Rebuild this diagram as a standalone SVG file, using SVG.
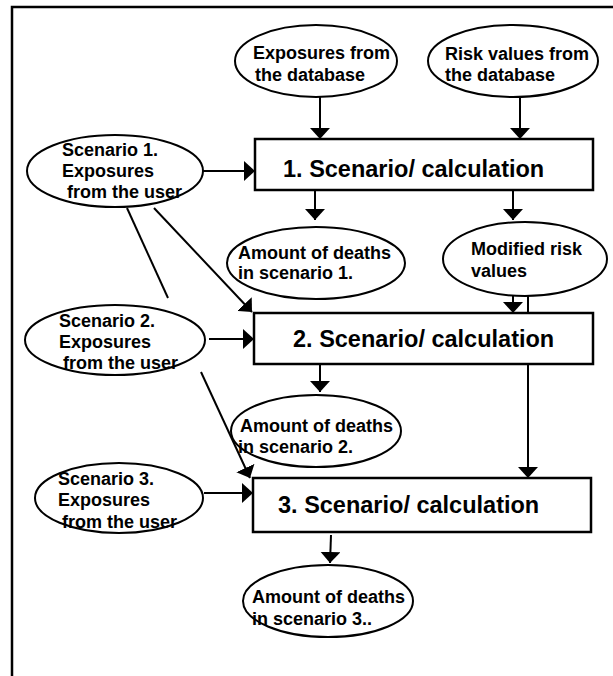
<svg xmlns="http://www.w3.org/2000/svg" width="613" height="676" viewBox="0 0 613 676">
<style>
.e{fill:#fff;stroke:#000;stroke-width:2}
.b{fill:#fff;stroke:#000;stroke-width:2.5}
.t{font-family:"Liberation Sans",Arial,sans-serif;font-weight:bold;font-size:18px;fill:#000}
.bt{font-family:"Liberation Sans",Arial,sans-serif;font-weight:bold;font-size:23.5px;fill:#000}
.c{fill:none;stroke:#000;stroke-width:2}
.a{marker-end:url(#ah)}
</style>
<defs>
<marker id="ah" viewBox="0 0 11 20" refX="11" refY="10" markerWidth="11" markerHeight="20" markerUnits="userSpaceOnUse" orient="auto">
<path d="M0,0 L11,10 L0,20 Z" fill="#000"/>
</marker>
</defs>
<rect width="613" height="676" fill="#fff"/>
<path d="M12,676 V7 H613" fill="none" stroke="#000" stroke-width="2.5"/>

<g id="connectors">
<path class="c a" d="M320,97 V139"/>
<path class="c a" d="M520,97 V139"/>
<path class="c a" d="M203,171 H255"/>
<path class="c a" d="M315,190 V220"/>
<path class="c a" d="M513,190 V220"/>
<path class="c a" d="M513,285 V313"/>
<path class="c a" d="M528,285 V478"/>
<path class="c a" d="M154,208 L252,312"/>
<path class="c" d="M127,208 L168,298"/>
<path class="c a" d="M209,339 H254"/>
<path class="c a" d="M320,364 V392"/>
<path class="c a" d="M201,372 L250,478"/>
<path class="c a" d="M204,493 H253"/>
<path class="c a" d="M331,535 L330,563"/>
</g>

<g id="exp-db">
<ellipse class="e" cx="316" cy="61" rx="81" ry="36"/>
<text class="t" x="253" y="59">Exposures from</text>
<text class="t" x="255" y="81">the database</text>
</g>
<g id="risk-db">
<ellipse class="e" cx="513" cy="61" rx="85" ry="36"/>
<text class="t" x="445" y="60">Risk values from</text>
<text class="t" x="445" y="81">the database</text>
</g>
<g id="calc1">
<rect class="b" x="255" y="139" width="338" height="51"/>
<text class="bt" x="283" y="177">1. Scenario/ calculation</text>
</g>
<g id="s1">
<ellipse class="e" cx="115" cy="171" rx="88" ry="36"/>
<text class="t" x="62" y="156">Scenario 1.</text>
<text class="t" x="62" y="177">Exposures</text>
<text class="t" x="67" y="198">from the user</text>
</g>
<g id="deaths1">
<ellipse class="e" cx="316" cy="263" rx="89" ry="36"/>
<text class="t" x="238" y="259">Amount of deaths</text>
<text class="t" x="238" y="279">in scenario 1.</text>
</g>
<g id="modified">
<ellipse class="e" cx="525" cy="259" rx="82" ry="37"/>
<text class="t" x="471" y="255">Modified risk</text>
<text class="t" x="471" y="277">values</text>
</g>
<g id="calc2">
<rect class="b" x="254" y="313" width="339" height="51"/>
<text class="bt" x="293" y="347">2. Scenario/ calculation</text>
</g>
<g id="s2">
<ellipse class="e" cx="115" cy="340" rx="90" ry="35"/>
<text class="t" x="59" y="327">Scenario 2.</text>
<text class="t" x="59" y="348">Exposures</text>
<text class="t" x="63" y="369">from the user</text>
</g>
<g id="deaths2">
<ellipse class="e" cx="316" cy="431" rx="85" ry="36"/>
<text class="t" x="240" y="432">Amount of deaths</text>
<text class="t" x="238" y="453">in scenario 2.</text>
</g>
<g id="calc3">
<rect class="b" x="253" y="478" width="338" height="54"/>
<text class="bt" x="278" y="513">3. Scenario/ calculation</text>
</g>
<g id="s3">
<ellipse class="e" cx="119" cy="498" rx="84" ry="35"/>
<text class="t" x="58" y="485">Scenario 3.</text>
<text class="t" x="58" y="506">Exposures</text>
<text class="t" x="62" y="528">from the user</text>
</g>
<g id="deaths3">
<ellipse class="e" cx="328" cy="601" rx="85" ry="36"/>
<text class="t" x="252" y="603">Amount of deaths</text>
<text class="t" x="252" y="625">in scenario 3..</text>
</g>
</svg>
